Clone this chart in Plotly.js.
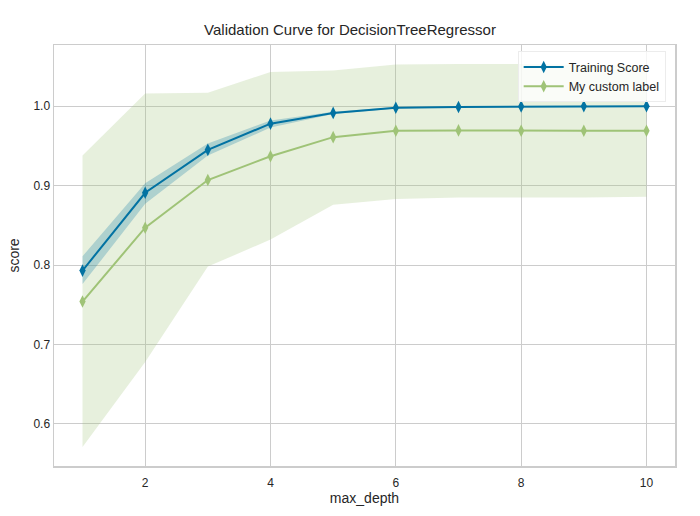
<!DOCTYPE html>
<html>
<head>
<meta charset="utf-8">
<script src="https://cdn.plot.ly/plotly-3.0.1.min.js"></script>
<style>html,body{margin:0;padding:0;background:#fff;}#chart{width:700px;height:516px;}</style>
</head>
<body>
<div id="chart"></div>
<script>
const maxDepth = [1, 2, 3, 4, 5, 6, 7, 8, 9, 10];
const trainMean = [0.793, 0.891, 0.945, 0.978, 0.9915, 0.998, 0.999, 0.9995, 0.9998, 1.0];
const trainUpper = [0.811, 0.903, 0.953, 0.982, 0.993, 0.999, 0.9995, 0.9998, 1.0, 1.0];
const trainLower = [0.776, 0.877, 0.938, 0.973, 0.990, 0.997, 0.9985, 0.9992, 0.9996, 1.0];
const validMean = [0.754, 0.847, 0.907, 0.937, 0.961, 0.969, 0.9695, 0.969, 0.969, 0.969];
const validUpper = [0.938, 1.016, 1.017, 1.043, 1.045, 1.0525, 1.053, 1.053, 1.052, 1.051];
const validLower = [0.571, 0.678, 0.798, 0.832, 0.876, 0.883, 0.885, 0.885, 0.885, 0.886];
const seriesNames = ["Training Score", "My custom label"];

const blue = "#0272a2";
const green = "#9fc377";

const traces = [
  {x: maxDepth, y: validLower, mode: "lines", line: {width: 0, color: green}, showlegend: false, hoverinfo: "skip"},
  {x: maxDepth, y: validUpper, mode: "lines", line: {width: 0, color: green}, fill: "tonexty", fillcolor: "rgba(159,195,119,0.25)", showlegend: false, hoverinfo: "skip"},
  {x: maxDepth, y: trainLower, mode: "lines", line: {width: 0, color: blue}, showlegend: false, hoverinfo: "skip"},
  {x: maxDepth, y: trainUpper, mode: "lines", line: {width: 0, color: blue}, fill: "tonexty", fillcolor: "rgba(2,114,162,0.25)", showlegend: false, hoverinfo: "skip"},
  {x: maxDepth, y: trainMean, name: seriesNames[0], mode: "lines+markers", line: {color: blue, width: 2}, marker: {symbol: "diamond-tall", size: 9, color: blue}},
  {x: maxDepth, y: validMean, name: seriesNames[1], mode: "lines+markers", line: {color: green, width: 2}, marker: {symbol: "diamond-tall", size: 9, color: green}}
];

const axisCommon = {
  showgrid: true, gridcolor: "#cccccc", gridwidth: 1,
  showline: true, linecolor: "#cccccc", linewidth: 1.5, mirror: true,
  zeroline: false, tickfont: {family: "Liberation Sans, Arial, sans-serif", size: 12, color: "#262626"}
};

const layout = {
  width: 700, height: 516,
  margin: {l: 54, r: 25, t: 45, b: 50},
  paper_bgcolor: "#ffffff", plot_bgcolor: "#ffffff",
  font: {family: "Liberation Sans, Arial, sans-serif", color: "#262626"},
  title: {text: "Validation Curve for DecisionTreeRegressor", font: {size: 15, color: "#262626"}, x: 0.5, xanchor: "center", y: 0.942, yanchor: "middle"},
  xaxis: Object.assign({}, axisCommon, {range: [0.545, 10.455], tickvals: [2, 4, 6, 8, 10], ticks: "outside", ticklen: 5, tickcolor: "rgba(0,0,0,0)", title: {text: "max_depth", font: {size: 14}, standoff: 2}}),
  yaxis: Object.assign({}, axisCommon, {range: [0.547, 1.077], tickvals: [0.6, 0.7, 0.8, 0.9, 1.0], tickformat: ".1f", ticks: "", title: {text: "score", font: {size: 14}, standoff: 10}}),
  legend: {x: 0.985, y: 0.985, xanchor: "right", yanchor: "top", traceorder: "normal", itemwidth: 40, bgcolor: "rgba(255,255,255,0.8)", bordercolor: "#ececec", borderwidth: 1, font: {size: 12.5, color: "#262626"}},
  showlegend: true
};

Plotly.newPlot("chart", traces, layout, {displayModeBar: false, staticPlot: true});
</script>
</body>
</html>
